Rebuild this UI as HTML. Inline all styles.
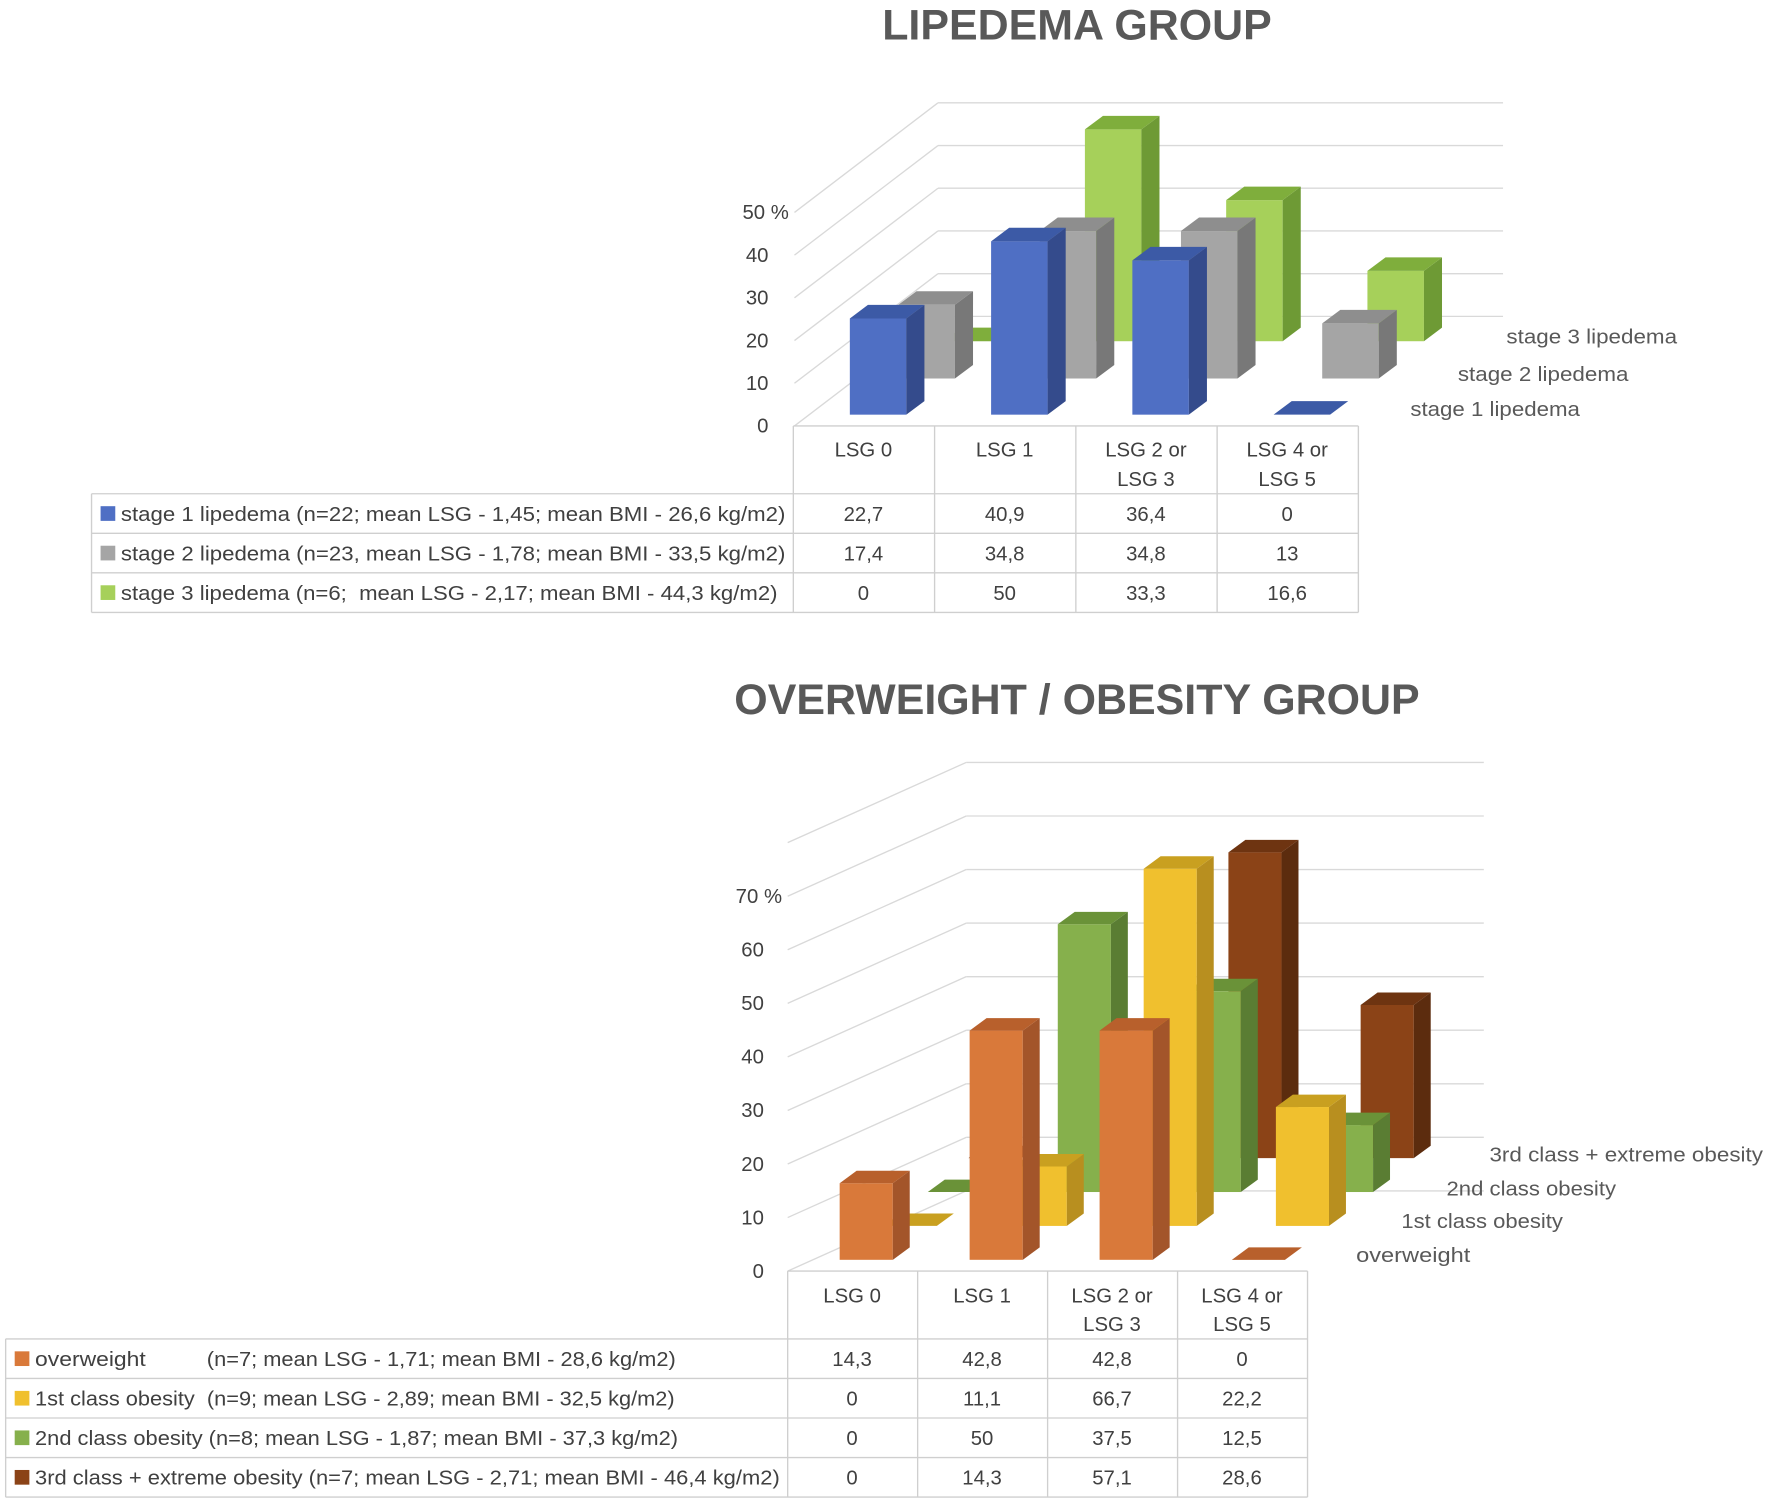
<!DOCTYPE html>
<html><head><meta charset="utf-8"><style>
html,body{margin:0;padding:0;background:#fff;}
svg{display:block;}
text{font-family:"Liberation Sans",sans-serif;fill:#404040;}
</style></head><body>
<svg id="s" width="1772" height="1505" viewBox="0 0 1568 1332" preserveAspectRatio="none" xmlns="http://www.w3.org/2000/svg">
<rect width="1568" height="1332" fill="#fff"/>
<text x="953" y="35" text-anchor="middle" font-size="38" font-weight="bold" style="fill:#595959">LIPEDEMA GROUP</text>
<text x="953" y="632" text-anchor="middle" font-size="38" font-weight="bold" style="fill:#595959">OVERWEIGHT / OBESITY GROUP</text>
<g id="g"></g>
</svg>
<script>
var g=document.getElementById('g'),h='';
function L(x1,y1,x2,y2,c,w){h+='<line x1="'+x1+'" y1="'+y1+'" x2="'+x2+'" y2="'+y2+'" stroke="'+(c||'#d9d9d9')+'" stroke-width="'+(w||1.2)+'"/>';}
function T(x,y,s,fs,a,c,tl){h+='<text x="'+x+'" y="'+y+'" font-size="'+(fs||18)+'"'+(a?' text-anchor="'+a+'"':'')+(c?' style="fill:'+c+'"':'')+(tl?' textLength="'+tl+'" lengthAdjust="spacingAndGlyphs"':'')+'>'+s+'</text>';}
function P(pts,c){h+='<polygon points="'+pts.map(function(p){return p.join(',')}).join(' ')+'" fill="'+c+'"/>';}
function bar(x,b,w,ht,d,dy,c){
 if(ht>0){h+='<rect x="'+x+'" y="'+(b-ht)+'" width="'+w+'" height="'+ht+'" fill="'+c[0]+'"/>';
 P([[x+w,b-ht],[x+w+d,b-ht-dy],[x+w+d,b-dy],[x+w,b]],c[1]);}
 P([[x,b-ht],[x+d,b-ht-dy],[x+w+d,b-ht-dy],[x+w,b-ht]],c[2]);
}
// chart 1 grid
for(var v=0;v<=50;v+=10){var yf=377-v*3.78,yb=280-v*3.78;L(703,yf,830,yb);L(830,yb,1330,yb);}
T(680,383,'0',18,'end');['10','20','30','40'].forEach(function(s,i){T(680,383-(i+1)*37.8,s,18,'end');});T(698,194,'50 %',18,'end');
var k1=3.75;
var G1=['#a6d05a','#6e9a35','#7fae3c'],S1=['#a5a5a5','#787878','#8e8e8e'],B1=['#4f6fc4','#344b8c','#3c5aa6'];
var xs=[752,877,1002,1127];
[0,50,33.3,16.6].forEach(function(v,i){bar(xs[i]+83,302,50,v*k1,16,12,G1);});
[17.4,34.8,34.8,13].forEach(function(v,i){bar(xs[i]+43,335,50,v*k1,16,12,S1);});
[22.7,40.9,36.4,0].forEach(function(v,i){bar(xs[i],367,50,v*k1,16,12,B1);});
T(1333,304,'stage 3 lipedema',18,0,'#595959',151);T(1290,337,'stage 2 lipedema',18,0,'#595959',151);T(1248,368,'stage 1 lipedema',18,0,'#595959',150);
// table 1
var c='#cfcfcf';
[702,827,952,1077,1202].forEach(function(x){L(x,377,x,542,c,1.2);});
L(702,377,1202,377,c);L(81,437,1202,437,c);L(81,472,1202,472,c);L(81,507,1202,507,c);L(81,542,1202,542,c);L(81,437,81,542,c);
['LSG 0','LSG 1','LSG 2 or','LSG 4 or'].forEach(function(s,i){T(764+i*125,404,s,18,'middle');});
T(1014,430,'LSG 3',18,'middle');T(1139,430,'LSG 5',18,'middle');
var r1=[['stage 1 lipedema (n=22; mean LSG - 1,45; mean BMI - 26,6 kg/m2)','#4f6fc4',['22,7','40,9','36,4','0'],588],
['stage 2 lipedema (n=23, mean LSG - 1,78; mean BMI - 33,5 kg/m2)','#a5a5a5',['17,4','34,8','34,8','13'],588],
['stage 3 lipedema (n=6;&#160; mean LSG - 2,17; mean BMI - 44,3 kg/m2)','#a6d05a',['0','50','33,3','16,6'],581]];
r1.forEach(function(r,j){var y=461+j*35;h+='<rect x="89" y="'+(y-13)+'" width="13" height="13" fill="'+r[1]+'"/>';T(107,y,r[0],18,0,0,r[3]);r[2].forEach(function(s,i){T(764+i*125,y,s,18,'middle');});});
// chart 2 grid
var k=4.74;
for(var v=0;v<=80;v+=10){var yf=1125-v*k,yb=1054-v*k;L(697,yf,855,yb);L(855,yb,1313,yb);}
T(676,1131,'0',18,'end');for(var i=1;i<7;i++)T(676,1131-i*47.4,''+i*10,18,'end');T(692,799,'70 %',18,'end');
var O=['#d9793a','#a3552a','#b8602c'],Y=['#f0c02e','#b88f1f','#c9a020'],Gr=['#86b04c','#5a7d33','#6a9238'],Br=['#8b4317','#5c2c0e','#6e3411'];
var x2=[743,858,973,1090];
[0,14.3,57.1,28.6].forEach(function(v,i){bar(x2[i]+114,1025,47,v*k,15,11,Br);});
[0,50,37.5,12.5].forEach(function(v,i){bar(x2[i]+78,1055,47,v*k,15,11,Gr);});
[0,11.1,66.7,22.2].forEach(function(v,i){bar(x2[i]+39,1085,47,v*k,15,11,Y);});
[14.3,42.8,42.8,0].forEach(function(v,i){bar(x2[i],1115,47,v*k,15,11,O);});
T(1318,1028,'3rd class + extreme obesity',18,0,'#595959',242);T(1280,1058,'2nd class obesity',18,0,'#595959',150);T(1240,1087,'1st class obesity',18,0,'#595959',143);T(1200,1117,'overweight',18,0,'#595959',101);
// table 2
[697,812,927,1042,1157].forEach(function(x){L(x,1125,x,1325,c,1.2);});
L(697,1125,1157,1125,c);[1185,1220,1255,1290,1325].forEach(function(y){L(5,y,1157,y,c);});L(5,1185,5,1325,c);
['LSG 0','LSG 1','LSG 2 or','LSG 4 or'].forEach(function(s,i){T(754+i*115,1153,s,18,'middle');});
T(984,1178,'LSG 3',18,'middle');T(1099,1178,'LSG 5',18,'middle');
var y0=1209;
h+='<rect x="13" y="'+(y0-13)+'" width="13" height="13" fill="#d9793a"/>';T(31,y0,'overweight',18,0,0,98);T(183,y0,'(n=7; mean LSG - 1,71; mean BMI - 28,6 kg/m2)',18,0,0,415);
var r2=[['1st class obesity&#160; (n=9; mean LSG - 2,89; mean BMI - 32,5 kg/m2)','#f0c02e',['0','11,1','66,7','22,2'],566],
['2nd class obesity (n=8; mean LSG - 1,87; mean BMI - 37,3 kg/m2)','#86b04c',['0','50','37,5','12,5'],569],
['3rd class + extreme obesity (n=7; mean LSG - 2,71; mean BMI - 46,4 kg/m2)','#8b4317',['0','14,3','57,1','28,6'],659]];
['14,3','42,8','42,8','0'].forEach(function(s,i){T(754+i*115,y0,s,18,'middle');});
r2.forEach(function(r,j){var y=1244+j*35;h+='<rect x="13" y="'+(y-13)+'" width="13" height="13" fill="'+r[1]+'"/>';T(31,y,r[0],18,0,0,r[3]);r[2].forEach(function(s,i){T(754+i*115,y,s,18,'middle');});});
g.innerHTML=h;
</script>
</body></html>
